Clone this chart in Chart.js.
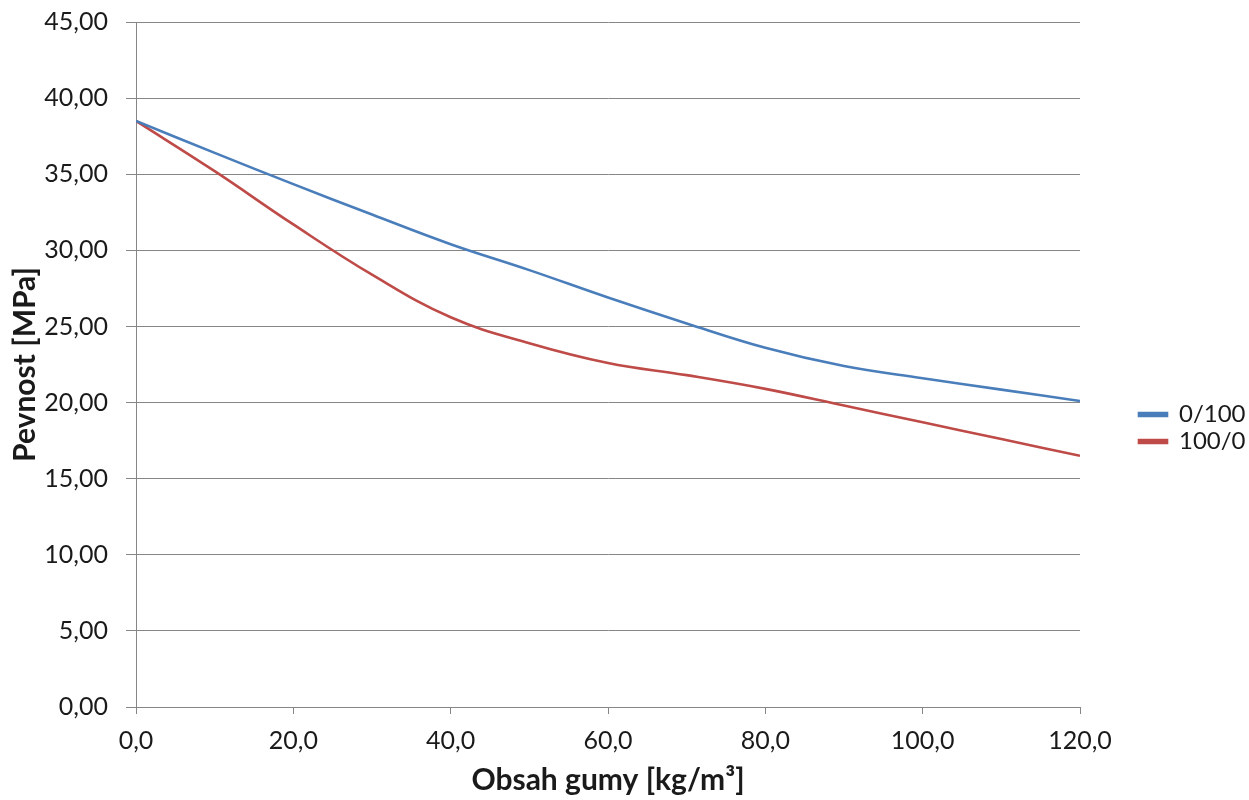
<!DOCTYPE html>
<html>
<head>
<meta charset="utf-8">
<script src="https://cdn.jsdelivr.net/npm/chart.js@4"></script>
<style>
  body { margin: 0; background: #fff; }
</style>
</head>
<body>
<canvas id="myChart" width="1249" height="800"></canvas>
<script>
// obsah gumy [kg/m3]
var obsah = [0, 10, 20, 30, 40, 50, 60, 70, 80, 90, 100, 110, 120];
// pevnost [MPa]
var serie0100 = [38.5, 36.4, 34.35, 32.35, 30.4, 28.7, 26.9, 25.2, 23.6, 22.4, 21.6, 20.85, 20.1];
var serie1000 = [38.5, 35.2, 31.7, 28.4, 25.6, 23.9, 22.6, 21.8, 20.9, 19.8, 18.7, 17.6, 16.5];
var nazvy = ['0/100', '100/0'];

function body(ys) {
    return obsah.map(function (x, i) { return { x: x, y: ys[i] }; });
}

var sediva = '#868686';
var pismo = 'Lato';

// legend sits right of the plot, a bit lower than centre
var legendaPlugin = {
    id: 'legendaPlugin',
    beforeInit: function (chart) {
        var lg = chart.legend;
        var fit = lg.fit;
        lg.fit = function () {
            fit.call(this);
            this.width = 169;
        };
    },
    afterLayout: function (chart) {
        var lg = chart.legend;
        lg.left += 56; lg.right += 56;
        lg.top += 17; lg.bottom += 17;
    }
};

var ctx = document.getElementById('myChart').getContext('2d');
var myChart = new Chart(ctx, {
    type: 'line',
    data: {
        datasets: [{
            label: nazvy[0],
            data: body(serie0100),
            borderColor: '#4A7EBB',
            backgroundColor: '#4A7EBB',
            borderWidth: 2.6,
            pointRadius: 0,
            tension: 0.4
        }, {
            label: nazvy[1],
            data: body(serie1000),
            borderColor: '#BE4B48',
            backgroundColor: '#BE4B48',
            borderWidth: 2.6,
            pointRadius: 0,
            tension: 0.4
        }]
    },
    options: {
        responsive: false,
        animation: false,
        devicePixelRatio: 1,
        layout: { padding: { top: 22, left: 0, right: 0, bottom: 0 } },
        plugins: {
            tooltip: { enabled: false },
            legend: {
                position: 'right',
                labels: {
                    boxWidth: 28,
                    boxHeight: 3,
                    padding: 3,
                    color: '#1a1a1a',
                    font: { family: pismo, size: 24 }
                }
            }
        },
        scales: {
            x: {
                type: 'linear',
                min: 0,
                max: 120,
                afterFit: function (s) { s.height = 93; },
                ticks: {
                    stepSize: 20,
                    padding: 12,
                    color: '#1a1a1a',
                    font: { family: pismo, size: 25 },
                    callback: function (v) { return v.toFixed(1).replace('.', ','); }
                },
                grid: { drawOnChartArea: false, drawTicks: true, tickLength: 7, color: sediva },
                border: { display: true, color: sediva },
                title: {
                    display: true,
                    text: 'Obsah gumy [kg/m³]',
                    color: '#1a1a1a',
                    font: { family: pismo, size: 30, weight: 'bold' },
                    padding: { top: 0, bottom: 2 }
                }
            },
            y: {
                min: 0,
                max: 45,
                afterFit: function (s) {
                    s.width = 136;
                    s.paddingTop = 0;
                    s.paddingBottom = 0;
                },
                ticks: {
                    stepSize: 5,
                    padding: 18,
                    color: '#1a1a1a',
                    font: { family: pismo, size: 25 },
                    callback: function (v) { return v.toFixed(2).replace('.', ','); }
                },
                grid: { color: sediva, tickLength: 10 },
                border: { display: true, color: sediva },
                title: {
                    display: true,
                    text: 'Pevnost [MPa]',
                    color: '#1a1a1a',
                    font: { family: pismo, size: 30, weight: 'bold' },
                    padding: { top: 7, bottom: 0 }
                }
            }
        }
    },
    plugins: [legendaPlugin]
});
</script>
</body>
</html>
